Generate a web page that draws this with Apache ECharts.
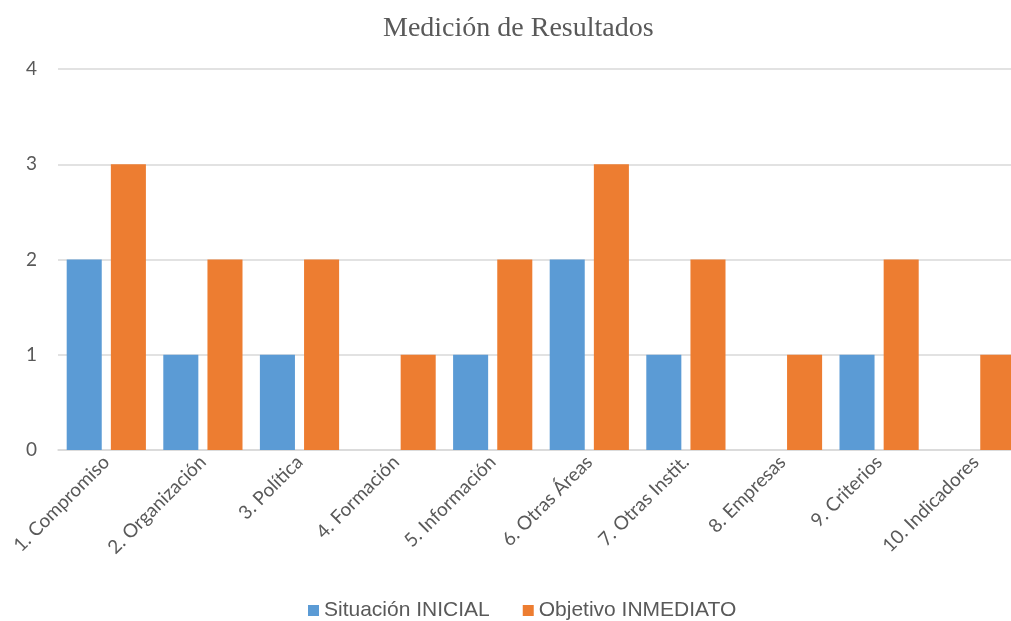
<!DOCTYPE html>
<html>
<head>
<meta charset="utf-8">
<script src="https://cdn.jsdelivr.net/npm/echarts@6/dist/echarts.min.js"></script>
<style>
  html, body { margin: 0; padding: 0; background: #fff; overflow: hidden; }
  #chart { width: 1024px; height: 621px; }
</style>
</head>
<body>
<div id="chart"></div>
<script>
  var categories = ['1. Compromiso', '2. Organización', '3. Política', '4. Formación', '5. Información',
    '6. Otras Áreas', '7. Otras Instit.', '8. Empresas', '9. Criterios', '10. Indicadores']
  var situacionInicial = [2, 1, 1, 0, 1, 2, 1, 0, 1, 0]
  var objetivoInmediato = [3, 2, 2, 1, 2, 3, 2, 1, 2, 1]
  var yTicks = [0, 1, 2, 3, 4]

  // the plot in the original runs a little past the right edge of the picture
  var chart = echarts.init(document.getElementById('chart'))
  chart.setOption({
    animation: false,
    title: {
      text: 'Medición de Resultados',
      left: 378,
      top: 10,
      textStyle: {
        fontFamily: 'Liberation Serif',
        fontWeight: 'normal',
        fontSize: 28,
        color: '#595959'
      }
    },
    legend: {
      data: ['Situación INICIAL', 'Objetivo INMEDIATO'],
      left: 303,
      top: 595,
      itemWidth: 11,
      itemHeight: 11,
      itemGap: 33,
      icon: 'rect',
      textStyle: {
        fontFamily: 'Liberation Sans',
        fontSize: 21,
        color: '#595959'
      }
    },
    grid: {
      left: 58,
      top: 69,
      right: 0,
      height: 381,
      containLabel: false
    },
    xAxis: {
      type: 'category',
      data: categories,
      axisTick: { show: false },
      axisLine: { show: true, lineStyle: { color: '#d9d9d9', width: 1.5 } },
      axisLabel: {
        rotate: 45,
        margin: 9,
        interval: 0,
        fontFamily: 'Lato',
        fontSize: 19,
        color: '#595959'
      }
    },
    yAxis: {
      type: 'value',
      min: yTicks[0],
      max: yTicks[yTicks.length - 1],
      interval: 1,
      axisLine: { show: false },
      axisTick: { show: false },
      splitLine: { lineStyle: { color: '#d9d9d9', width: 1.5 } },
      axisLabel: {
        margin: 21,
        fontFamily: 'Lato',
        fontSize: 19,
        color: '#595959'
      }
    },
    series: [
      {
        name: 'Situación INICIAL',
        type: 'bar',
        data: situacionInicial,
        barGap: '26%',
        barCategoryGap: '18%',
        itemStyle: { color: '#5b9bd5' }
      },
      {
        name: 'Objetivo INMEDIATO',
        type: 'bar',
        data: objetivoInmediato,
        barGap: '26%',
        barCategoryGap: '18%',
        itemStyle: { color: '#ed7d31' }
      }
    ]
  })
</script>
</body>
</html>
